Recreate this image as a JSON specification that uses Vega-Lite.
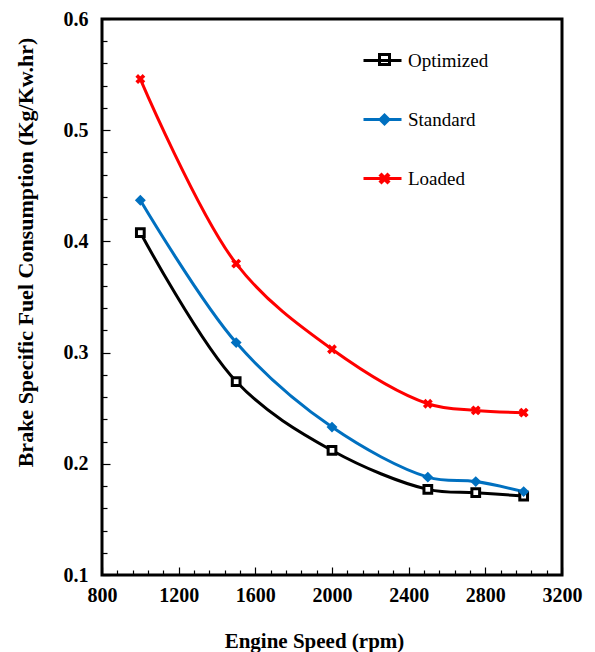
{
  "$schema": "https://vega.github.io/schema/vega-lite/v6.json",
  "width": 460,
  "height": 556,
  "autosize": {"type": "none"},
  "padding": {"left": 102, "top": 19, "right": 33, "bottom": 77},
  "config": {
    "view": {"stroke": "black", "strokeWidth": 3},
    "font": "Liberation Serif",
    "axis": {
      "domain": false,
      "grid": false,
      "tickColor": "black",
      "tickWidth": 1.2,
      "labelFont": "Liberation Serif",
      "labelFontWeight": "bold",
      "labelFontSize": 20,
      "labelColor": "black",
      "titleFont": "Liberation Serif",
      "titleFontWeight": "bold",
      "titleColor": "black",
      "labelOverlap": false,
      "labelBound": false,
      "labelFlush": false
    },
    "legend": {
      "labelFont": "Liberation Serif",
      "labelFontSize": 19,
      "labelColor": "black",
      "padding": 0
    }
  },
  "data": {
    "values": [
      {"rpm": 1000, "bsfc": 0.408, "series": "Optimized"},
      {"rpm": 1500, "bsfc": 0.274, "series": "Optimized"},
      {"rpm": 2000, "bsfc": 0.212, "series": "Optimized"},
      {"rpm": 2500, "bsfc": 0.177, "series": "Optimized"},
      {"rpm": 2750, "bsfc": 0.174, "series": "Optimized"},
      {"rpm": 3000, "bsfc": 0.171, "series": "Optimized"},
      {"rpm": 1000, "bsfc": 0.437, "series": "Standard"},
      {"rpm": 1500, "bsfc": 0.309, "series": "Standard"},
      {"rpm": 2000, "bsfc": 0.233, "series": "Standard"},
      {"rpm": 2500, "bsfc": 0.188, "series": "Standard"},
      {"rpm": 2750, "bsfc": 0.184, "series": "Standard"},
      {"rpm": 3000, "bsfc": 0.175, "series": "Standard"},
      {"rpm": 1000, "bsfc": 0.546, "series": "Loaded"},
      {"rpm": 1500, "bsfc": 0.380, "series": "Loaded"},
      {"rpm": 2000, "bsfc": 0.303, "series": "Loaded"},
      {"rpm": 2500, "bsfc": 0.254, "series": "Loaded"},
      {"rpm": 2750, "bsfc": 0.248, "series": "Loaded"},
      {"rpm": 3000, "bsfc": 0.246, "series": "Loaded"}
    ]
  },
  "encoding": {
    "x": {
      "field": "rpm",
      "type": "quantitative",
      "scale": {"domain": [800, 3200], "nice": false, "zero": false},
      "axis": {
        "title": "Engine Speed (rpm)",
        "titleFontSize": 21,
        "titlePadding": 22,
        "titleX": 212,
        "values": [800,880,960,1040,1120,1200,1280,1360,1440,1520,1600,1680,1760,1840,1920,2000,2080,2160,2240,2320,2400,2480,2560,2640,2720,2800,2880,2960,3040,3120,3200],
        "labelExpr": "datum.value % 400 == 0 ? datum.label : ''",
        "format": "d",
        "tickSize": {"condition": {"test": "datum.value % 400 == 0", "value": -8}, "value": -5},
        "labelPadding": 18
      }
    },
    "y": {
      "field": "bsfc",
      "type": "quantitative",
      "scale": {"domain": [0.1, 0.6], "nice": false, "zero": false},
      "axis": {
        "title": "Brake Specific Fuel Consumption  (Kg/Kw.hr)",
        "titleFontSize": 22,
        "titleAngle": -90,
        "titleX": -77,
        "titleY": 233,
        "titleBaseline": "middle",
        "titleAlign": "center",
        "values": [0.1,0.12,0.14,0.16,0.18,0.2,0.22,0.24,0.26,0.28,0.3,0.32,0.34,0.36,0.38,0.4,0.42,0.44,0.46,0.48,0.5,0.52,0.54,0.56,0.58,0.6],
        "labelExpr": "abs(datum.value*10 - round(datum.value*10)) < 0.001 ? format(datum.value, '.1f') : ''",
        "tickSize": {"condition": {"test": "abs(datum.value*10 - round(datum.value*10)) < 0.001", "value": -8}, "value": -5},
        "labelPadding": 22
      }
    }
  },
  "layer": [
    {
      "mark": {"type": "line", "interpolate": "catmull-rom", "strokeWidth": 3},
      "encoding": {
        "color": {
          "field": "series",
          "type": "nominal",
          "scale": {"domain": ["Optimized", "Standard", "Loaded"], "range": ["#000000", "#0070C0", "#FF0000"]},
          "legend": {
            "title": null,
            "orient": "none",
            "legendX": 260,
            "legendY": 21,
            "symbolType": "stroke",
            "symbolSize": 1444,
            "symbolStrokeWidth": 3,
            "rowPadding": 28,
            "labelOffset": 5
          }
        }
      }
    },
    {
      "mark": {"type": "point", "filled": false, "opacity": 1},
      "encoding": {
        "shape": {
          "field": "series",
          "type": "nominal",
          "scale": {"domain": ["Optimized", "Standard", "Loaded"], "range": ["square", "diamond", "M-1,-0.6L-0.6,-1L0,-0.4L0.6,-1L1,-0.6L0.4,0L1,0.6L0.6,1L0,0.4L-0.6,1L-1,0.6L-0.4,0Z"]},
          "legend": {
            "title": null,
            "orient": "none",
            "legendX": 273,
            "legendY": 31,
            "labelExpr": "''",
            "rowPadding": 39
          }
        },
        "fill": {
          "field": "series",
          "type": "nominal",
          "scale": {"domain": ["Optimized", "Standard", "Loaded"], "range": ["#FFFFFF", "#0070C0", "#FF0000"]},
          "legend": {
            "title": null,
            "orient": "none",
            "legendX": 273,
            "legendY": 31,
            "labelExpr": "''",
            "rowPadding": 39
          }
        },
        "stroke": {
          "field": "series",
          "type": "nominal",
          "scale": {"domain": ["Optimized", "Standard", "Loaded"], "range": ["#000000", "#0070C0", "#FF0000"]},
          "legend": {
            "title": null,
            "orient": "none",
            "legendX": 273,
            "legendY": 31,
            "labelExpr": "''",
            "rowPadding": 39
          }
        },
        "strokeWidth": {
          "field": "series",
          "type": "nominal",
          "scale": {"domain": ["Optimized", "Standard", "Loaded"], "range": [3, 1.5, 1.5]},
          "legend": null
        },
        "size": {"value": 60}
      }
    }
  ],
  "resolve": {"legend": {"color": "independent"}}
}
